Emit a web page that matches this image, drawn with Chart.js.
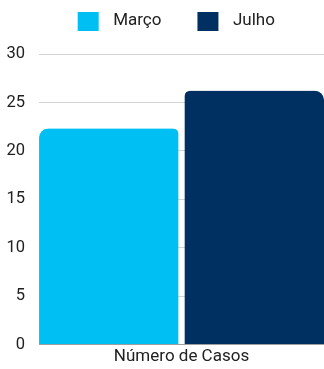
<!DOCTYPE html>
<html>
<head>
<meta charset="utf-8">
<script src="https://cdn.jsdelivr.net/npm/chart.js@4.4.1/dist/chart.umd.min.js"></script>
<style>
  html, body { margin: 0; padding: 0; background: #fff; }
  #wrap { width: 324px; height: 369px; }
</style>
</head>
<body>
<div id="wrap"><canvas id="chart"></canvas></div>
<script>
  const categories = ["Número de Casos"];
  const seriesNames = ["Março", "Julho"];
  const marco = [22.3];
  const julho = [26.2];
  const yTicks = { min: 0, max: 30, step: 5 };
  const colors = ["#00BFF2", "#003062"];

  Chart.defaults.font.family = "Roboto, 'Noto Sans', sans-serif";
  Chart.defaults.color = "#212121";

  // legend swatches: square sits at the right of a wider transparent icon,
  // so the text gap and item spacing match the original
  const ICON_W = 63, BOX = 21;
  const legendIcons = colors.map((c) => {
    const cv = document.createElement("canvas");
    cv.width = ICON_W; cv.height = BOX;
    const g = cv.getContext("2d");
    g.fillStyle = c;
    g.fillRect(ICON_W - 6 - BOX, 0, BOX, BOX);
    return cv;
  });

  // extra room under the legend
  const legendGap = {
    id: "legendGap",
    beforeInit(chart) {
      const fit = chart.legend.fit;
      chart.legend.fit = function () { fit.bind(chart.legend)(); this.height += 15; };
    }
  };

  const ctx = document.getElementById("chart").getContext("2d");
  new Chart(ctx, {
    type: "bar",
    data: {
      labels: categories,
      datasets: [
        {
          label: seriesNames[0],
          data: marco,
          backgroundColor: colors[0],
          borderColor: "rgba(0,0,0,0)",
          borderWidth: { top: 0, right: 3.5, bottom: 0, left: 0 },
          borderRadius: 9,
          borderSkipped: "start"
        },
        {
          label: seriesNames[1],
          data: julho,
          backgroundColor: colors[1],
          borderColor: "rgba(0,0,0,0)",
          borderWidth: { top: 0, right: 0, bottom: 0, left: 3.5 },
          borderRadius: 9,
          borderSkipped: "start"
        }
      ]
    },
    options: {
      responsive: true,
      maintainAspectRatio: false,
      animation: false,
      layout: { padding: { left: -7.5, right: 0, top: 12, bottom: 0 } },
      datasets: { bar: { barPercentage: 1, categoryPercentage: 1 } },
      plugins: {
        legend: {
          position: "top",
          labels: {
            font: { size: 17 },
            padding: 0,
            usePointStyle: true,
            pointStyleWidth: ICON_W,
            boxHeight: BOX,
            generateLabels(chart) {
              const items = Chart.defaults.plugins.legend.labels.generateLabels(chart);
              items.forEach((it, i) => { it.pointStyle = legendIcons[i]; });
              return items;
            }
          }
        },
        tooltip: { enabled: false }
      },
      scales: {
        x: {
          grid: { display: false, drawTicks: false },
          border: { display: true, color: "#9e9e9e" },
          ticks: { padding: 2, font: { size: 17 } }
        },
        y: {
          min: yTicks.min,
          max: yTicks.max,
          ticks: { stepSize: yTicks.step, padding: 14, font: { size: 16.5 } },
          grid: { color: "#d4d4d4", drawTicks: false },
          border: { display: false }
        }
      }
    },
    plugins: [legendGap]
  });
</script>
</body>
</html>
